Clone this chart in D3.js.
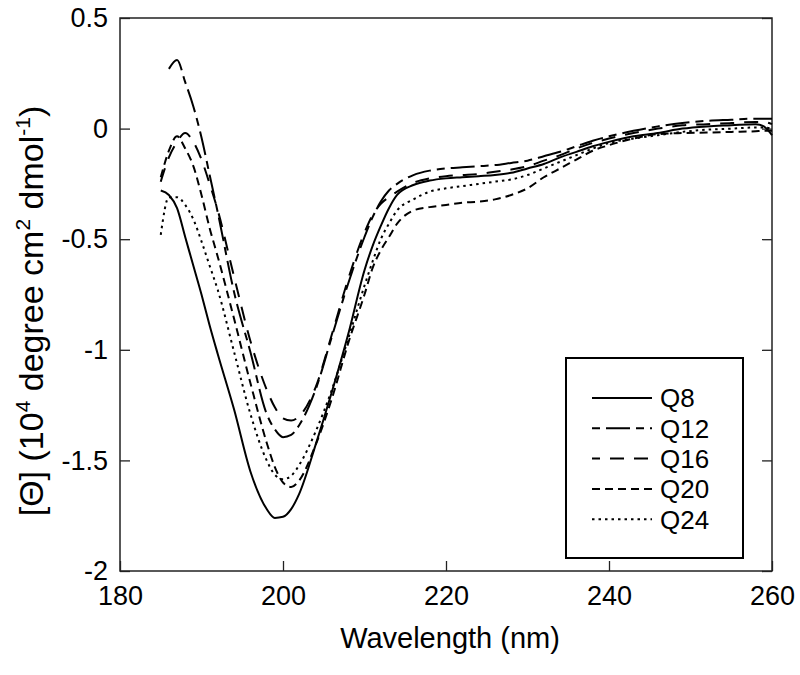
<!DOCTYPE html>
<html>
  <head>
    <meta charset="utf-8" />
    <title>CD spectra</title>
    <script src="https://d3js.org/d3.v7.min.js"></script>
    <style>
        body{
            margin: 0;
            background: #fff;
        }
        text{
            font-family: "Liberation Sans", Arial, sans-serif;
            fill: #000;
        }
    </style>
  </head>
  <body>
    <svg id="vis"></svg>

    <script>
        // wavelengths (nm) shared by every curve
        var wavelength = [185,186,187,188,189,190,191,192,194,196,198,199,200,201,202,204,206,208,210,211,212,213,214,
                          216,218,220,222,224,226,228,230,232,234,236,238,240,243,246,249,252,255,258,259,260];

        var q8  = [-0.28,-0.30,-0.36,-0.49,-0.62,-0.75,-0.89,-1.02,-1.27,-1.55,-1.72,-1.76,-1.755,-1.72,-1.65,-1.43,-1.19,-0.93,-0.64,-0.53,-0.44,-0.36,-0.30,
                   -0.255,-0.235,-0.225,-0.22,-0.215,-0.21,-0.20,-0.18,-0.16,-0.13,-0.105,-0.08,-0.06,-0.035,-0.02,0.0,0.01,0.015,0.02,0.01,-0.03];
        var q12 = [null,0.27,0.31,0.21,0.10,-0.04,-0.21,-0.38,-0.74,-1.01,-1.29,-1.36,-1.395,-1.385,-1.34,-1.18,-0.94,-0.70,-0.49,-0.40,-0.33,-0.28,-0.25,
                   -0.21,-0.19,-0.18,-0.175,-0.17,-0.165,-0.155,-0.145,-0.125,-0.105,-0.08,-0.055,-0.035,-0.01,0.01,0.025,0.035,0.04,0.045,0.045,0.045];
        var q16 = [-0.24,-0.13,-0.06,-0.02,-0.06,-0.14,-0.25,-0.37,-0.67,-0.96,-1.18,-1.26,-1.31,-1.32,-1.30,-1.17,-0.93,-0.68,-0.47,-0.39,-0.34,-0.31,-0.285,
                   -0.245,-0.225,-0.215,-0.21,-0.205,-0.195,-0.185,-0.17,-0.145,-0.12,-0.09,-0.065,-0.045,-0.02,0.0,0.015,0.02,0.025,0.03,0.03,0.02];
        var q20 = [-0.22,-0.10,-0.035,-0.09,-0.17,-0.30,-0.45,-0.58,-0.86,-1.15,-1.42,-1.53,-1.60,-1.62,-1.59,-1.43,-1.22,-0.97,-0.75,-0.63,-0.55,-0.49,-0.43,
                   -0.37,-0.355,-0.345,-0.335,-0.33,-0.32,-0.30,-0.27,-0.22,-0.18,-0.14,-0.10,-0.075,-0.045,-0.025,-0.02,-0.018,-0.015,-0.012,-0.01,-0.01];
        var q24 = [-0.48,-0.31,-0.31,-0.345,-0.41,-0.51,-0.62,-0.73,-1.01,-1.29,-1.50,-1.565,-1.585,-1.57,-1.52,-1.37,-1.18,-0.95,-0.71,-0.60,-0.50,-0.43,-0.37,
                   -0.32,-0.285,-0.27,-0.26,-0.25,-0.24,-0.23,-0.21,-0.18,-0.15,-0.12,-0.09,-0.065,-0.045,-0.03,-0.015,-0.005,0.0,0.005,0.005,0.0];

        var seriesNames = ["Q8", "Q12", "Q16", "Q20", "Q24"];
        var seriesValues = [q8, q12, q16, q20, q24];
        var dashes = [null, "24,6,8,6", "14,10", "8,5", "2.5,4"];
        var legendOffsets = [0, 30, 6, 0, 0];

        var xTicks = [180, 200, 220, 240, 260];
        var yTicks = [0.5, 0, -0.5, -1, -1.5, -2];

        var width = 800, height = 675;
        var svg = d3.select("#vis").attr("width", width).attr("height", height);

        // plot frame (note: "top" is a reserved window global, so use a margin object)
        var frame = {left: 120, right: 772, top: 18, bottom: 571};

        var x = d3.scaleLinear().domain([180, 260]).range([frame.left, frame.right]);
        var y = d3.scaleLinear().domain([-2, 0.5]).range([frame.bottom, frame.top]);

        // axes with inward ticks
        var yAxis = d3.axisLeft(y).tickValues(yTicks).tickSizeInner(-10).tickSizeOuter(0)
            .tickPadding(12).tickFormat(function(d){ return String(d); });
        var gy = svg.append("g").attr("transform", "translate(" + frame.left + ",0)").call(yAxis);

        var xAxis = d3.axisBottom(x).tickValues(xTicks).tickSizeInner(-10).tickSizeOuter(0)
            .tickPadding(15).tickFormat(function(d){ return String(d); });
        var gx = svg.append("g").attr("transform", "translate(0," + frame.bottom + ")").call(xAxis);

        var yAxisR = d3.axisRight(y).tickValues(yTicks).tickSizeInner(-10).tickSizeOuter(0).tickFormat("");
        var gr = svg.append("g").attr("transform", "translate(" + frame.right + ",0)").call(yAxisR);

        [gy, gx, gr].forEach(function(g){
            g.select(".domain").remove();
            g.selectAll(".tick line").attr("stroke", "#222").attr("stroke-width", 1.3);
            g.selectAll(".tick text").attr("font-size", 27).attr("font-family", "'Liberation Sans', Arial, sans-serif").attr("fill", "#000");
        });

        svg.append("rect")
            .attr("x", frame.left).attr("y", frame.top)
            .attr("width", frame.right - frame.left).attr("height", frame.bottom - frame.top)
            .attr("fill", "none").attr("stroke", "#222").attr("stroke-width", 1.5);

        // curves
        var line = d3.line()
            .defined(function(d){ return d[1] !== null; })
            .x(function(d){ return x(d[0]); })
            .y(function(d){ return y(d[1]); })
            .curve(d3.curveMonotoneX);

        var plot = svg.append("g");
        seriesValues.forEach(function(vals, i){
            var pts = wavelength.map(function(w, j){ return [w, vals[j]]; });
            plot.append("path")
                .attr("d", line(pts))
                .attr("fill", "none")
                .attr("stroke", "#000")
                .attr("stroke-width", 2)
                .attr("stroke-dasharray", dashes[i]);
        });

        // legend
        var legend = svg.append("g");
        legend.append("rect")
            .attr("x", 566).attr("y", 358).attr("width", 177).attr("height", 200)
            .attr("fill", "#fff").attr("stroke", "#000").attr("stroke-width", 2);

        seriesNames.forEach(function(name, i){
            var ly = 398 + i * 30.3;
            legend.append("line")
                .attr("x1", 592).attr("x2", 652).attr("y1", ly).attr("y2", ly)
                .attr("stroke", "#000").attr("stroke-width", 2)
                .attr("stroke-dasharray", dashes[i])
                .attr("stroke-dashoffset", legendOffsets[i]);
            legend.append("text")
                .attr("x", 660).attr("y", ly).attr("dy", "0.36em")
                .attr("font-size", 26)
                .text(name);
        });

        // axis titles
        svg.append("text")
            .attr("x", (frame.left + frame.right) / 2 + 4).attr("y", 648)
            .attr("text-anchor", "middle")
            .attr("font-size", 29)
            .text("Wavelength (nm)");

        var yt = svg.append("text")
            .attr("transform", "translate(43,311) rotate(-90)")
            .attr("text-anchor", "middle")
            .attr("font-size", 34);
        yt.append("tspan").text("[\u0398] (10");
        yt.append("tspan").attr("dy", -13).attr("font-size", 21).text("4");
        yt.append("tspan").attr("dy", 13).text(" degree cm");
        yt.append("tspan").attr("dy", -13).attr("font-size", 21).text("2");
        yt.append("tspan").attr("dy", 13).text(" dmol");
        yt.append("tspan").attr("dy", -13).attr("font-size", 21).text("-1");
        yt.append("tspan").attr("dy", 13).text(")");
    </script>
  </body>
</html>
